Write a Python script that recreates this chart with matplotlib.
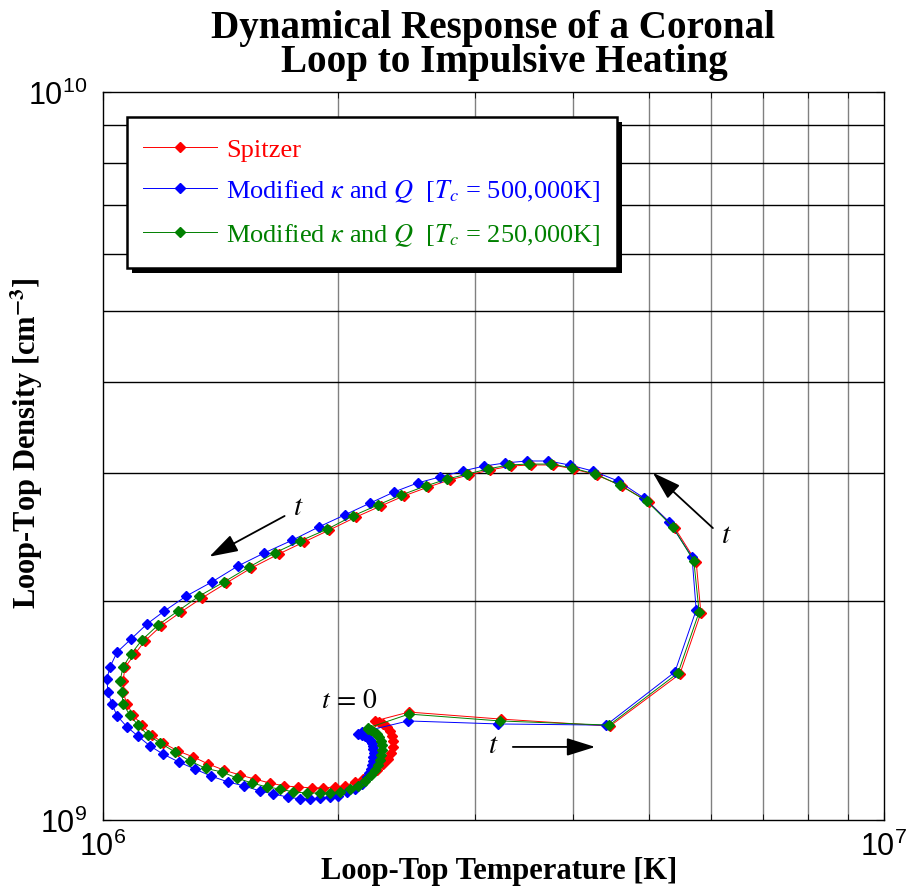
import matplotlib.pyplot as plt
import numpy as np
from matplotlib.ticker import NullFormatter
from matplotlib.patches import Rectangle
from matplotlib.transforms import IdentityTransform

plt.rcParams['font.family'] = ['Liberation Serif', 'DejaVu Serif']
plt.rcParams['mathtext.fontset'] = 'stix'

# loop-top temperature [MK] and density [1e9 cm^-3], one entry per output time
spitzer_T = [2.232, 2.467, 3.235, 4.46, 5.48, 5.83, 5.75, 5.40, 5.00, 4.62,
             4.29, 4.01, 3.77, 3.53, 3.33, 3.13, 2.94, 2.78, 2.61, 2.43,
             2.27, 2.11, 1.95, 1.81, 1.68, 1.55, 1.44, 1.34, 1.260, 1.188,
             1.133, 1.100, 1.069, 1.062, 1.062, 1.075, 1.094, 1.123, 1.157, 1.195,
             1.249, 1.306, 1.365, 1.430, 1.499, 1.567, 1.638, 1.707, 1.779, 1.854,
             1.915, 1.984, 2.043, 2.104, 2.154, 2.199, 2.245,
             2.285, 2.319, 2.340, 2.354, 2.354, 2.347, 2.333, 2.312, 2.285, 2.258]
spitzer_n = [1.368, 1.407, 1.376, 1.346, 1.587, 1.925, 2.262, 2.518, 2.734, 2.876,
             2.978, 3.035, 3.074, 3.074, 3.064, 3.025, 2.978, 2.931, 2.867, 2.787,
             2.700, 2.607, 2.502, 2.409, 2.319, 2.219, 2.116, 2.018, 1.931, 1.847,
             1.762, 1.691, 1.622, 1.552, 1.499, 1.443, 1.394, 1.350, 1.308, 1.276,
             1.244, 1.221, 1.194, 1.171, 1.153, 1.138, 1.124, 1.114, 1.110, 1.107,
             1.107, 1.110, 1.114, 1.128, 1.138, 1.157, 1.173,
             1.194, 1.213, 1.236, 1.260, 1.284, 1.304, 1.325, 1.342, 1.355, 1.363]

tc500_T = [2.148, 2.46, 3.21, 4.41, 5.40, 5.75, 5.68, 5.31, 4.93, 4.57,
           4.24, 3.96, 3.72, 3.49, 3.27, 3.08, 2.89, 2.70, 2.53, 2.36,
           2.20, 2.04, 1.89, 1.75, 1.61, 1.49, 1.38, 1.28, 1.20, 1.14,
           1.088, 1.044, 1.022, 1.013, 1.016, 1.028, 1.044, 1.075, 1.110, 1.150,
           1.195, 1.253, 1.313, 1.377, 1.447, 1.517, 1.591, 1.653, 1.727, 1.790,
           1.843, 1.898, 1.955, 2.001, 2.055, 2.104, 2.148, 2.180,
           2.193, 2.206, 2.212, 2.219, 2.219, 2.225, 2.219, 2.219, 2.212, 2.199,
           2.186, 2.167, 2.148, 2.123]
tc500_n = [1.321, 1.368, 1.355, 1.350, 1.597, 1.943, 2.298, 2.567, 2.769, 2.922,
           3.016, 3.074, 3.113, 3.113, 3.093, 3.064, 3.016, 2.959, 2.904, 2.822,
           2.725, 2.624, 2.526, 2.424, 2.327, 2.233, 2.123, 2.031, 1.937, 1.859,
           1.773, 1.701, 1.622, 1.562, 1.499, 1.443, 1.390, 1.342, 1.304, 1.264,
           1.232, 1.201, 1.175, 1.149, 1.128, 1.114, 1.096, 1.086, 1.075, 1.069,
           1.069, 1.072, 1.075, 1.079, 1.093, 1.103, 1.121, 1.146,
           1.160, 1.175, 1.190, 1.205, 1.221, 1.236, 1.252, 1.264, 1.276, 1.288,
           1.296, 1.304, 1.308, 1.313]

tc250_T = [2.186, 2.467, 3.226, 4.45, 5.45, 5.80, 5.71, 5.37, 4.97, 4.59,
           4.27, 3.99, 3.75, 3.51, 3.31, 3.11, 2.93, 2.76, 2.59, 2.41,
           2.25, 2.09, 1.94, 1.79, 1.66, 1.54, 1.43, 1.33, 1.249, 1.178,
           1.123, 1.088, 1.062, 1.053, 1.059, 1.062, 1.084, 1.110, 1.143, 1.185,
           1.238, 1.294, 1.357, 1.422, 1.486, 1.553, 1.624, 1.687, 1.753, 1.827,
           1.898, 1.955, 2.013, 2.073, 2.123, 2.167, 2.206,
           2.232, 2.252, 2.265, 2.272, 2.279, 2.279, 2.272, 2.258, 2.245, 2.225,
           2.206, 2.186]
tc250_n = [1.338, 1.398, 1.368, 1.350, 1.592, 1.931, 2.269, 2.526, 2.743, 2.885,
           2.987, 3.045, 3.083, 3.083, 3.074, 3.035, 2.987, 2.940, 2.876, 2.795,
           2.708, 2.616, 2.510, 2.417, 2.327, 2.226, 2.123, 2.031, 1.937, 1.853,
           1.767, 1.691, 1.622, 1.552, 1.499, 1.443, 1.394, 1.350, 1.308, 1.276,
           1.240, 1.205, 1.177, 1.164, 1.142, 1.124, 1.110, 1.103, 1.093, 1.089,
           1.089, 1.089, 1.093, 1.103, 1.114, 1.131, 1.153,
           1.171, 1.190, 1.209, 1.228, 1.248, 1.268, 1.284, 1.300, 1.313, 1.321,
           1.329, 1.334]

runs = [
    (spitzer_T, spitzer_n, 'red', 'Spitzer'),
    (tc500_T, tc500_n, 'blue', r'Modified $\kappa$ and $Q$  [$T_c$ = 500,000K]'),
    (tc250_T, tc250_n, 'green', r'Modified $\kappa$ and $Q$  [$T_c$ = 250,000K]'),
]

fig = plt.figure(figsize=(9.09, 8.87), dpi=100)
ax = fig.add_axes([0.1128, 0.0744, 0.8597, 0.8207])

for T, n, c, lab in runs:
    ax.plot(np.array(T) * 1e6, np.array(n) * 1e9, '-', marker='D', color=c,
            lw=0.7, ms=5, mfc=c, mec=c, label=lab)

ax.set_xscale('log')
ax.set_yscale('log')
ax.set_xlim(1e6, 1e7)
ax.set_ylim(1e9, 1e10)
ax.xaxis.set_minor_formatter(NullFormatter())
ax.yaxis.set_minor_formatter(NullFormatter())
ax.set_axisbelow(True)
ax.grid(which='minor', axis='x', color='0.5', lw=1.0)
ax.grid(which='minor', axis='y', color='k', lw=1.0)
ax.tick_params(which='both', direction='in', top=True, right=True,
               labelsize=22, labelfontfamily='Liberation Sans')
ax.tick_params(which='major', length=6)
ax.tick_params(which='minor', length=4)
ax.tick_params(axis='x', pad=8)
ax.tick_params(axis='y', pad=11)
for s in ax.spines.values():
    s.set_linewidth(1.0)

# two-line title, second line sits slightly right of the first
fig.text(0.5429, 0.9572, 'Dynamical Response of a Coronal', fontsize=28.2,
         fontweight='bold', ha='center', va='baseline')
fig.text(0.5550, 0.9188, 'Loop to Impulsive Heating', fontsize=28.2,
         fontweight='bold', ha='center', va='baseline')
ax.set_xlabel('Loop-Top Temperature [K]', fontsize=22, fontweight='bold')
ax.set_ylabel(r'Loop-Top Density [cm$^{\mathbf{-3}}$]', fontsize=22, fontweight='bold')
ax.xaxis.set_label_coords(0.508, -0.05)
ax.yaxis.set_label_coords(-0.074, 0.519)

# time direction markers
arrow = dict(arrowstyle='-|>,head_length=0.8,head_width=0.25', mutation_scale=22,
             lw=1.3, color='k', shrinkA=0, shrinkB=0)
ax.annotate('', xy=(4.27e6, 1.26e9), xytext=(3.35e6, 1.26e9), arrowprops=arrow)
ax.annotate('', xy=(1.37e6, 2.30e9), xytext=(1.71e6, 2.616e9), arrowprops=arrow)
ax.annotate('', xy=(5.06e6, 3.00e9), xytext=(6.04e6, 2.518e9), arrowprops=arrow)
ax.text(3.16e6, 1.268e9, '$t$', fontsize=21, ha='center', va='center')
ax.text(1.78e6, 2.69e9, '$t$', fontsize=21, ha='center', va='center')
ax.text(6.28e6, 2.46e9, '$t$', fontsize=21, ha='center', va='center')
ax.text(2.07e6, 1.46e9, r'$t\,=\,0$', fontsize=20, ha='center', va='center')

# legend entries without frame; the box and its shadow are drawn below
leg = ax.legend(loc='upper left', bbox_to_anchor=(0.031, 0.9602), borderaxespad=0,
                fontsize=19, handlelength=2.8, handletextpad=0.35, labelspacing=0.64,
                borderpad=0.62, frameon=False)
for txt, (_, _, c, _) in zip(leg.get_texts(), runs):
    txt.set_color(c)

fig.canvas.draw()
bb = leg.get_window_extent()
x0, y0, w, h = bb.x0, bb.y0 - 4, bb.width, bb.height + 8
shadow = Rectangle((x0 + 5, y0 - 5), w, h, transform=IdentityTransform(),
                   facecolor='k', edgecolor='none', zorder=4.9, clip_on=False)
frame = Rectangle((x0, y0), w, h, transform=IdentityTransform(),
                  facecolor='white', edgecolor='k', lw=1.8, zorder=4.95, clip_on=False)
ax.add_artist(shadow)
ax.add_artist(frame)

fig.savefig('out.png', dpi=100)
